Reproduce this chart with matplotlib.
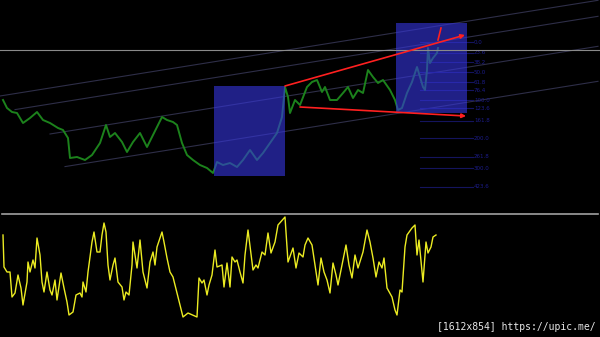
import numpy as np
import matplotlib.pyplot as plt
from matplotlib.patches import Rectangle

# price trace (chart units: x = bar position, y = level on inverted scale)
price_x = [3, 7, 12, 17, 23, 30, 37, 43, 50, 58, 63, 68, 70, 77, 85, 92, 100, 106, 110,
           115, 122, 127, 133, 140, 147, 152, 157, 162, 167, 173, 177, 182, 187, 193, 200,
           207, 213, 217, 223, 230, 237, 243, 250, 257, 263, 270, 277, 282, 285, 288, 290,
           295, 300, 307, 312, 317, 322, 325, 330, 337, 343, 348, 353, 358, 363, 368, 373,
           378, 383, 390, 395, 398, 402, 407, 412, 417, 420, 423, 425, 427, 428, 430, 433,
           437, 438]
price_y = [100, 108, 112, 113, 123, 118, 112, 120, 123, 128, 130, 138, 158, 157, 160, 155,
           143, 125, 137, 133, 142, 152, 142, 133, 147, 137, 127, 117, 120, 122, 125, 143,
           155, 160, 165, 168, 173, 162, 165, 163, 167, 160, 150, 160, 153, 143, 133, 117,
           87, 97, 113, 100, 105, 87, 82, 80, 92, 87, 100, 100, 93, 87, 98, 90, 93, 70, 77,
           83, 80, 90, 100, 110, 108, 93, 82, 67, 77, 87, 90, 70, 48, 63, 58, 53, 48]

# oscillator trace
osc_x = [3, 4, 7, 10, 12, 15, 18, 21, 23, 27, 28, 30, 33, 35, 37, 40, 42, 44, 47, 50, 52,
         55, 57, 61, 64, 67, 69, 73, 76, 80, 82, 83, 86, 88, 92, 94, 97, 100, 102, 104,
         106, 108, 110, 113, 115, 118, 122, 124, 126, 129, 132, 133, 137, 140, 143, 147,
         150, 153, 155, 157, 162, 164, 167, 170, 173, 177, 180, 183, 188, 197, 199, 202,
         204, 207, 209, 212, 215, 217, 222, 224, 227, 230, 232, 235, 237, 240, 243, 245,
         248, 252, 253, 256, 258, 262, 265, 268, 271, 275, 278, 285, 288, 293, 296, 299,
         303, 305, 308, 312, 315, 318, 321, 324, 327, 330, 333, 336, 338, 342, 346, 349,
         352, 355, 358, 363, 367, 370, 373, 376, 379, 382, 384, 387, 392, 395, 397, 400,
         402, 405, 407, 412, 415, 417, 419, 423, 426, 428, 431, 433, 436]
osc_y = [235, 267, 272, 272, 297, 293, 275, 288, 305, 282, 262, 272, 260, 268, 238, 255,
         282, 292, 272, 290, 295, 280, 300, 273, 288, 302, 315, 312, 295, 293, 297, 282,
         292, 272, 242, 232, 252, 252, 235, 223, 232, 265, 280, 265, 258, 282, 287, 300,
         292, 295, 265, 242, 268, 240, 272, 288, 262, 252, 265, 247, 232, 242, 258, 272,
         277, 293, 305, 317, 313, 317, 278, 283, 280, 295, 285, 275, 250, 267, 265, 287,
         263, 287, 257, 262, 260, 272, 283, 255, 230, 262, 270, 265, 268, 252, 255, 233,
         253, 242, 225, 217, 262, 248, 268, 253, 257, 245, 238, 245, 265, 285, 258, 272,
         280, 293, 263, 275, 285, 265, 245, 265, 278, 255, 268, 252, 230, 242, 258, 277,
         262, 268, 258, 288, 297, 310, 315, 290, 292, 247, 235, 228, 225, 255, 240, 282,
         242, 253, 247, 237, 235]

# regression channel lines: start x, level at x=0, slope
chan_start = [0, 15, 50, 65]
chan_level = [96, 112, 142, 177]
chan_slope = -0.16

# highlighted zones (x0, x1, top, bottom)
zones = [(214, 285, 86, 176), (396, 467, 23, 113)]

# trend arrows
trend_lines = [((285, 86), (465, 35)), ((300, 107), (466, 116))]

fib_labels = ['0.0', '23.6', '38.2', '50.0', '61.8', '76.4', '100.0', '123.6',
              '161.8', '200.0', '261.8', '300.0', '423.6']
fib_y = [42, 53, 62, 72, 82, 90, 100, 108, 121, 138, 157, 168, 187]

last_price = 49.5
divider = 213.5

fig = plt.figure(figsize=(6, 3.37), dpi=100, facecolor='black')
ax = fig.add_axes([0, 0, 1, 1])
ax.set_facecolor('black')
ax.set_xlim(0, 600)
ax.set_ylim(337, 0)
ax.axis('off')

for x0, b in zip(chan_start, chan_level):
    ax.plot([x0, 598], [b + chan_slope * x0, b + chan_slope * 598],
            color='#2e2e48', lw=0.8, zorder=1)

for y, lab in zip(fib_y, fib_labels):
    ax.plot([420, 473], [y, y], color='#14145e', lw=0.8, zorder=1)
    ax.text(474, y, lab, color='#1c1c8a', fontsize=4, va='center', ha='left', zorder=1)

ax.plot(price_x, price_y, color='#1c821c', lw=1.4, zorder=2)

for x0, x1, top, bot in zones:
    ax.add_patch(Rectangle((x0, top), x1 - x0, bot - top, facecolor='#3636e0',
                           alpha=0.6, edgecolor='none', zorder=3))

ax.axhline(last_price, color='#8a8a8a', lw=0.8, zorder=4)
ax.plot([2, 598], [divider, divider], color='#a0a0a0', lw=1.2, zorder=4)

for (xs, ys), (xe, ye) in trend_lines:
    ax.annotate('', xy=(xe, ye), xytext=(xs, ys), zorder=5,
                arrowprops=dict(arrowstyle='-|>', color='#ff2020', lw=1.2,
                                mutation_scale=6, shrinkA=0, shrinkB=0))
ax.plot([441, 438], [28, 40], color='#ff2020', lw=1.2, zorder=5)

ax.plot(osc_x, osc_y, color='#ecec22', lw=1.0, zorder=2)

ax.text(596, 327, '[1612x854] https://upic.me/', color='#e8e8e8', fontsize=7,
        ha='right', va='center', family='DejaVu Sans Mono')

fig.savefig('out.png', dpi=100, facecolor='black')
